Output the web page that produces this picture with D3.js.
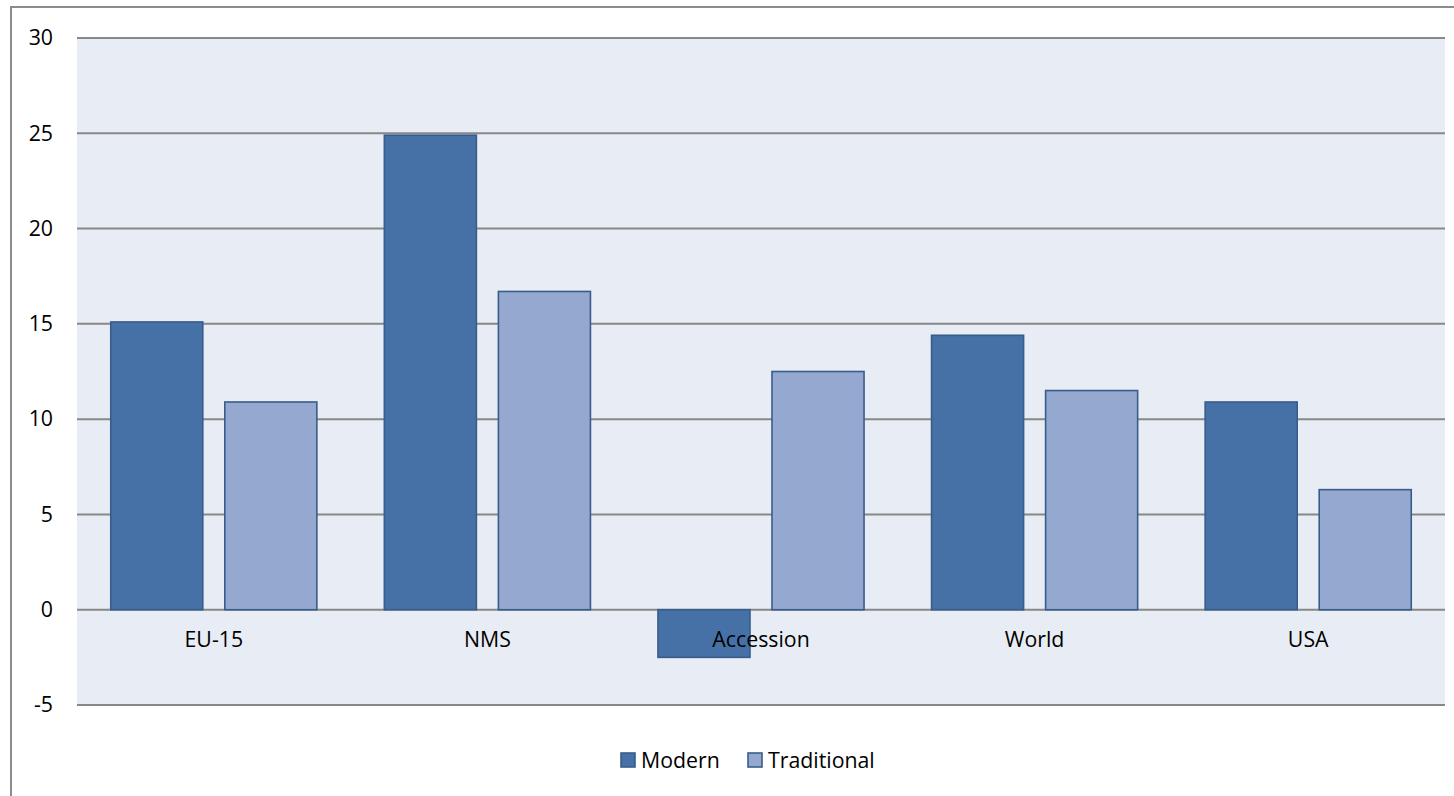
<!DOCTYPE html>
<html>
<head>
<meta charset="utf-8">
<script src="https://cdn.jsdelivr.net/npm/d3@7"></script>
<style>
  html, body { margin: 0; padding: 0; background: #ffffff; }
  svg { display: block; }
  text { font-family: "Open Sans", Lato, sans-serif; fill: #000; }
</style>
</head>
<body>
<svg id="chart" width="1454" height="796"></svg>
<script>
// Regions and series
const categories = ["EU-15", "NMS", "Accession", "World", "USA"];
const seriesNames = ["Modern", "Traditional"];
const modern = [15.1, 24.9, -2.5, 14.4, 10.9];
const traditional = [10.9, 16.7, 12.5, 11.5, 6.3];
const yTicks = [-5, 0, 5, 10, 15, 20, 25, 30];

const seriesValues = { Modern: modern, Traditional: traditional };
const fills = { Modern: "#4571A6", Traditional: "#95A9D0" };
const strokeColor = "#385D8A";
const fontStack = "'Open Sans', Lato, sans-serif";
const fontSize = "21.3px";

const svg = d3.select("#chart");
const W = 1454, H = 796;
const plot = { left: 77, right: 1445, top: 38, bottom: 705 };

// Outer chart frame
svg.append("rect")
  .attr("x", 11).attr("y", 7)
  .attr("width", W + 20).attr("height", H + 20)
  .attr("fill", "#ffffff")
  .attr("stroke", "#8c8c8c").attr("stroke-width", 2);

const y = d3.scaleLinear().domain([-5, 30]).range([plot.bottom, plot.top]);
const x0 = d3.scaleBand().domain(categories).range([plot.left, plot.right]).padding(0);
const x1 = d3.scaleBand().domain(seriesNames).range([0, x0.bandwidth()])
  .paddingInner(0.193).paddingOuter(0.296);

// Plot background
svg.append("rect")
  .attr("x", plot.left).attr("y", plot.top)
  .attr("width", plot.right - plot.left).attr("height", plot.bottom - plot.top)
  .attr("fill", "#E8ECF4");

// Horizontal gridlines
svg.append("g").selectAll("line").data(yTicks).join("line")
  .attr("x1", plot.left).attr("x2", plot.right)
  .attr("y1", d => y(d)).attr("y2", d => y(d))
  .attr("stroke", "#888888").attr("stroke-width", 2);

// Y axis labels (plain hyphen for negatives)
const yAxis = d3.axisLeft(y).tickValues(yTicks).tickSize(0).tickPadding(24)
  .tickFormat(d => String(d));
const gy = svg.append("g").attr("transform", `translate(${plot.left},0)`).call(yAxis);
gy.select(".domain").remove();
gy.selectAll("text")
  .style("font-family", fontStack)
  .style("font-size", fontSize).attr("fill", "#000");

// Bars
const rows = categories.map((c, i) => ({ cat: c, vals: seriesNames.map(s => ({ s, v: seriesValues[s][i] })) }));
const groups = svg.append("g").selectAll("g").data(rows).join("g")
  .attr("transform", d => `translate(${x0(d.cat)},0)`);
groups.selectAll("rect").data(d => d.vals).join("rect")
  .attr("x", d => x1(d.s))
  .attr("width", x1.bandwidth())
  .attr("y", d => y(Math.max(0, d.v)))
  .attr("height", d => Math.abs(y(d.v) - y(0)))
  .attr("fill", d => fills[d.s])
  .attr("stroke", strokeColor).attr("stroke-width", 1.6);

// Category labels just under zero line
const xAxis = d3.axisBottom(x0).tickSize(0).tickPadding(22);
const gx = svg.append("g").attr("transform", `translate(0,${y(0)})`).call(xAxis);
gx.select(".domain").remove();
gx.selectAll("text")
  .style("font-family", fontStack)
  .style("font-size", fontSize).attr("fill", "#000");

// Legend
const legendItems = [
  { name: "Modern", x: 621 },
  { name: "Traditional", x: 748 }
];
const lg = svg.append("g").selectAll("g").data(legendItems).join("g")
  .attr("transform", d => `translate(${d.x},753)`);
lg.append("rect")
  .attr("width", 14).attr("height", 14)
  .attr("fill", d => fills[d.name])
  .attr("stroke", strokeColor).attr("stroke-width", 1.6);
lg.append("text")
  .attr("x", 20).attr("y", 14.5)
  .style("font-family", fontStack)
  .style("font-size", fontSize)
  .text(d => d.name);
</script>
</body>
</html>
